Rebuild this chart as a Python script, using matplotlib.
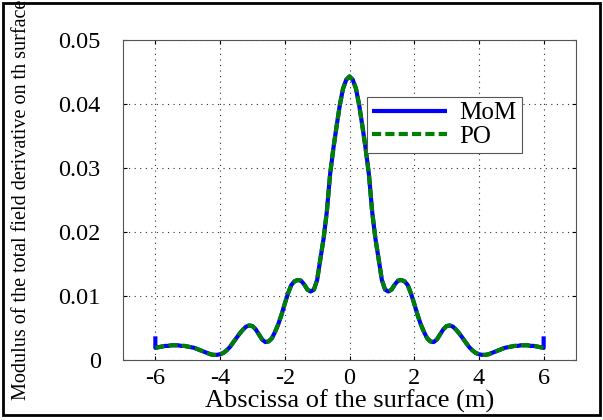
import matplotlib
matplotlib.use("Agg")
import matplotlib.pyplot as plt
from matplotlib.patches import Rectangle

# abscissa of the surface (m)
x_vals = [-6.0, -5.9, -5.8, -5.7, -5.6, -5.5, -5.4, -5.3, -5.2, -5.1,
          -5.0, -4.9, -4.8, -4.7, -4.6, -4.5, -4.4, -4.3, -4.2, -4.1,
          -4.0, -3.9, -3.8, -3.7, -3.6, -3.5, -3.4, -3.3, -3.2, -3.1,
          -3.0, -2.9, -2.8, -2.7, -2.6, -2.5, -2.4, -2.3, -2.2, -2.1,
          -2.0, -1.9, -1.8, -1.7, -1.6, -1.5, -1.4, -1.3, -1.2, -1.1,
          -1.0, -0.9, -0.8, -0.7, -0.6, -0.5, -0.4, -0.3, -0.2, -0.1,
          0.0, 0.1, 0.2, 0.3, 0.4, 0.5, 0.6, 0.7, 0.8, 0.9,
          1.0, 1.1, 1.2, 1.3, 1.4, 1.5, 1.6, 1.7, 1.8, 1.9,
          2.0, 2.1, 2.2, 2.3, 2.4, 2.5, 2.6, 2.7, 2.8, 2.9,
          3.0, 3.1, 3.2, 3.3, 3.4, 3.5, 3.6, 3.7, 3.8, 3.9,
          4.0, 4.1, 4.2, 4.3, 4.4, 4.5, 4.6, 4.7, 4.8, 4.9,
          5.0, 5.1, 5.2, 5.3, 5.4, 5.5, 5.6, 5.7, 5.8, 5.9, 6.0]

# PO solution
po_vals = [0.0019, 0.0020, 0.0021, 0.0022, 0.0022, 0.0023, 0.0023, 0.0023, 0.0022, 0.0022,
           0.0021, 0.0020, 0.0019, 0.0017, 0.0015, 0.0013, 0.0011, 0.0009, 0.0008, 0.0008,
           0.0009, 0.0011, 0.0015, 0.0020, 0.0027, 0.0034, 0.0041, 0.0047, 0.0052, 0.0054,
           0.0053, 0.0048, 0.0040, 0.0032, 0.0028, 0.0029, 0.0034, 0.0044, 0.0056, 0.0071,
           0.0088, 0.0104, 0.0117, 0.0123, 0.0125, 0.0124, 0.0118, 0.0110, 0.0107, 0.0110,
           0.0125, 0.0158, 0.0190, 0.0232, 0.0290, 0.0330, 0.0365, 0.0398, 0.0424, 0.0438,
           0.0443, 0.0438, 0.0424, 0.0398, 0.0365, 0.0330, 0.0290, 0.0232, 0.0190, 0.0158,
           0.0125, 0.0110, 0.0107, 0.0110, 0.0118, 0.0124, 0.0125, 0.0123, 0.0117, 0.0104,
           0.0088, 0.0071, 0.0056, 0.0044, 0.0034, 0.0029, 0.0028, 0.0032, 0.0040, 0.0048,
           0.0053, 0.0054, 0.0052, 0.0047, 0.0041, 0.0034, 0.0027, 0.0020, 0.0015, 0.0011,
           0.0009, 0.0008, 0.0008, 0.0009, 0.0011, 0.0013, 0.0015, 0.0017, 0.0019, 0.0020,
           0.0021, 0.0022, 0.0022, 0.0023, 0.0023, 0.0023, 0.0022, 0.0022, 0.0021, 0.0020, 0.0019]

# MoM matches PO except for the edge values at x = -6 and x = 6
mom_edge = 0.0037
mom_x = [x_vals[0]] + x_vals + [x_vals[-1]]
mom_vals = [mom_edge] + po_vals + [mom_edge]

x_ticks = [-6, -4, -2, 0, 2, 4, 6]
y_ticks = [0, 0.01, 0.02, 0.03, 0.04, 0.05]
y_ticklabels = ["0", "0.01", "0.02", "0.03", "0.04", "0.05"]

plt.rcParams['font.family'] = ['Liberation Serif', 'DejaVu Serif']

fig = plt.figure(figsize=(6.03, 4.20), dpi=100)
ax = fig.add_axes([123 / 603, 60 / 420, 453 / 603, 320 / 420])

ax.plot(mom_x, mom_vals, color='#0000ff', lw=3, label='MoM', solid_capstyle='butt')
ax.plot(x_vals, po_vals, color='#008000', lw=3, ls=(0, (2.2, 1.0)), label='PO')

ax.set_xlim(-7, 7)
ax.set_ylim(0, 0.05)
ax.set_xticks(x_ticks)
ax.set_xticklabels([str(t) for t in x_ticks])
ax.set_yticks(y_ticks)
ax.set_yticklabels(y_ticklabels)
ax.tick_params(direction='in', length=3, labelsize=17.5, top=True, right=True)
ax.tick_params(axis='x', pad=6)
ax.tick_params(axis='y', pad=16)
ax.grid(True, color='#333333', ls=(0, (1, 4)), lw=0.8)

for s in ax.spines.values():
    s.set_color('#555555')
    s.set_linewidth(0.8)

ax.set_xlabel('Abscissa of the surface (m)', fontsize=19, labelpad=0)
fig.text(0.036, 0.525, 'Modulus of the total field derivative on th surface',
         rotation=90, ha='center', va='center', fontsize=14.5)

leg = ax.legend(loc='upper left', bbox_to_anchor=(0.539, 0.822), fontsize=18,
                handlelength=3.0, fancybox=False, framealpha=1, borderaxespad=0,
                borderpad=0.2, labelspacing=0.05, handletextpad=0.5)
leg.get_frame().set_edgecolor('#555555')
leg.get_frame().set_linewidth(0.8)

fig.patches.append(Rectangle((0.005, 0.012), 0.99, 0.98, transform=fig.transFigure,
                             fill=False, edgecolor='black', lw=2))

fig.savefig('out.png', dpi=100)
